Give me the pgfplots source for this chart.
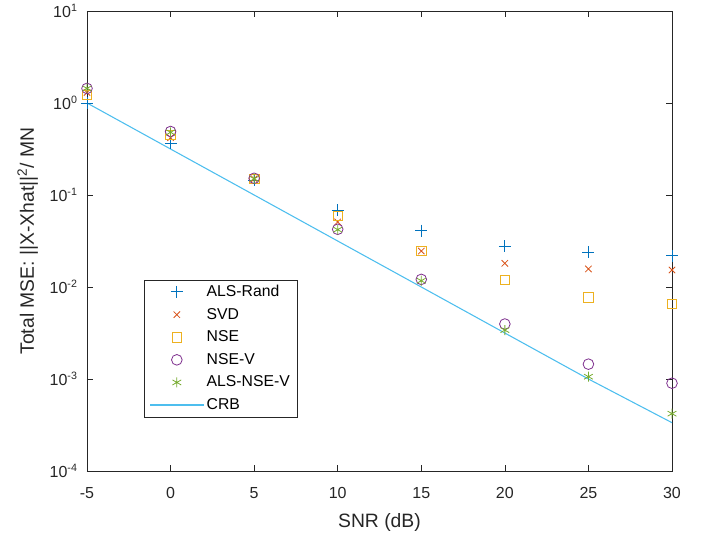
\documentclass[border=0pt]{standalone}
\usepackage{fontspec}
\setmainfont{Liberation Sans}
\usepackage{pgfplots}
\pgfplotsset{compat=1.18}
\definecolor{mblue}{rgb}{0,0.447,0.741}
\definecolor{morange}{rgb}{0.85,0.325,0.098}
\definecolor{myellow}{rgb}{0.929,0.694,0.125}
\definecolor{mpurple}{rgb}{0.494,0.184,0.556}
\definecolor{mgreen}{rgb}{0.466,0.674,0.188}
\definecolor{mcyan}{rgb}{0.301,0.745,0.933}
\definecolor{axgray}{rgb}{0.15,0.15,0.15}

\pgfplotsset{
  mleg/.style={legend image code/.code={%
    \draw[mark repeat=2,mark phase=2,##1] plot coordinates {(0pt,0pt) (20pt,0pt) (40pt,0pt)};}},
  lleg/.style={legend image code/.code={%
    \draw[##1] (0pt,0pt) -- (40pt,0pt);}},
}

\begin{document}
\begin{tikzpicture}
\begin{axis}[
  scale only axis, width=438.75pt, height=345pt,
  ymode=log, log basis y=10,
  xmin=-5, xmax=30, ymin=1e-4, ymax=10,
  xtick={-5,0,5,10,15,20,25,30},
  xticklabels={-5,0,5,10,15,20,25,30},
  ytick={1e-4,1e-3,1e-2,1e-1,1,10},
  yticklabels={10\textsuperscript{-4},10\textsuperscript{-3},10\textsuperscript{-2},10\textsuperscript{-1},10\textsuperscript{0},10\textsuperscript{1}},
  tick align=inside,
  major tick length=4.5pt, minor tick length=2.5pt,
  axis line style={axgray, line width=0.5pt},
  tick style={axgray, line width=0.5pt},
  tick label style={font=\fontsize{12}{13}\selectfont, text=axgray},
  xticklabel style={yshift=-9pt},
  yticklabel style={xshift=-3.5pt},
  label style={font=\fontsize{14.5}{16}\selectfont, text=axgray},
  xlabel style={yshift=-4pt},
  ylabel style={yshift=2pt},
  xlabel={SNR (dB)},
  ylabel={Total MSE: ||X-Xhat||\textsuperscript{2}/ MN},
  legend cell align=left,
  legend style={at={(0.0974,0.117)}, anchor=south west,
    draw=axgray, line width=0.5pt,
    font=\fontsize{11.8}{13}\selectfont, text=black,
    row sep=3.2pt, inner xsep=4pt},
]
\addplot[only marks, mark=+, mark size=4.5pt, color=mblue, line width=0.6pt, mleg] coordinates {
  (-5,1.0) (0,0.365) (5,0.145) (10,0.0687) (15,0.041) (20,0.0279) (25,0.0238) (30,0.0219)
};
\addlegendentry{ALS-Rand}
\addplot[only marks, mark=x, mark size=3.4pt, color=morange, line width=0.6pt, mleg] coordinates {
  (-5,1.3) (0,0.42) (5,0.15) (10,0.051) (15,0.0246) (20,0.0181) (25,0.0157) (30,0.0153)
};
\addlegendentry{SVD}
\addplot[only marks, mark=square, mark size=3.6pt, color=myellow, line width=0.6pt, mleg] coordinates {
  (-5,1.22) (0,0.45) (5,0.15) (10,0.059) (15,0.0246) (20,0.0119) (25,0.00766) (30,0.00653)
};
\addlegendentry{NSE}
\addplot[only marks, mark=o, mark size=4pt, color=mpurple, line width=0.6pt, mleg] coordinates {
  (-5,1.44) (0,0.49) (5,0.152) (10,0.0424) (15,0.0121) (20,0.00396) (25,0.00145) (30,0.0009)
};
\addlegendentry{NSE-V}
\addplot[only marks, mark=asterisk, mark size=3.8pt, color=mgreen, line width=0.6pt, mleg] coordinates {
  (-5,1.44) (0,0.48) (5,0.15) (10,0.042) (15,0.0117) (20,0.0034) (25,0.00106) (30,0.00042)
};
\addlegendentry{ALS-NSE-V}
\addplot[color=mcyan, line width=0.8pt, mark=none, lleg] coordinates {
  (-5,1.0) (0,0.316) (5,0.1) (10,0.0316) (15,0.01) (20,0.00316) (25,0.001) (30,0.000335)
};
\addlegendentry{CRB}
\end{axis}
\pgfresetboundingbox
\path[use as bounding box] ([shift={(-65.25pt,-47.25pt)}]current axis.south west) rectangle ([shift={(27pt,8.25pt)}]current axis.north east);
\end{tikzpicture}
\end{document}
